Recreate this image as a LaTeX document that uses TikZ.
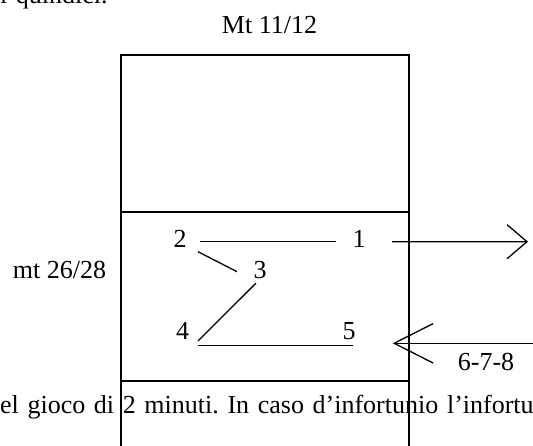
\documentclass[tikz,border=0pt]{standalone}
\usepackage{fontspec}
\setmainfont{Liberation Serif}
\usetikzlibrary{arrows.meta,calc}
\frenchspacing

\begin{document}
\begin{tikzpicture}[x=0.4615pt, y=-0.4615pt, line width=0.6pt,
		num/.style={inner sep=0pt, anchor=base, font=\fontsize{12}{14}\selectfont},
		txt/.style={inner sep=0pt, font=\fontsize{12}{14}\selectfont},
		outarrow/.style={-{Straight Barb[length=9.2pt, width=15.7pt]}},
		inarrow/.style={-{Straight Barb[length=18pt, width=18.2pt]}}]
		\useasboundingbox (0,0) rectangle (533,445);
		\clip (0,0) rectangle (533,445);

		% surrounding text of the page
		\node[txt, anchor=base west] (prev) at (0,3.5) {r quindici.};
		\node[txt, anchor=base west] (next) at (-0.5,413.3) {\makebox[246.2pt][s]{el gioco di 2 minuti. In caso d’infortunio l’infortu}};

		% field
		\draw (121,460) -- (121,55) -- (409,55) -- (409,460);
		\draw (121,212) -- (409,212);
		\draw (121,381) -- (409,381);
		\node[txt, anchor=base] (top) at (269.5,33.3) {Mt 11/12};
		\node[txt, anchor=base] (mark) at (59.5,278.3) {mt 26/28};

		% players
		\node[num] (n1) at (359,247) {1};
		\node[num] (n2) at (180,247) {2};
		\node[num] (n3) at (260,278.3) {3};
		\node[num] (n4) at (182.7,339) {4};
		\node[num] (n5) at (349,339) {5};

		\draw ($(n2.base)+(20,-5.3)$) -- ($(n1.base)+(-23.3,-5.3)$);
		\draw ($(n2.base)+(18,4.7)$) -- ($(n3.base)+(-23,-6.6)$);
		\draw ($(n3.base)+(-4.2,5)$) -- ($(n4.base)+(15.3,2)$);
		\draw ($(n4.base)+(15.3,6.7)$) -- ($(n5.base)+(3.7,6.7)$);

		% in and out
		\coordinate (exit) at (528,241.7);
		\coordinate (far) at (540,343.3);
		\coordinate (entry) at (392.7,343.3);
		\draw[outarrow] ($(n1.base)+(33.2,-5.3)$) -- (exit);
		\draw[inarrow] (far) -- (entry);
		\node[txt, anchor=base] (subs) at (486,370) {6-7-8};
	\end{tikzpicture}
\end{document}
